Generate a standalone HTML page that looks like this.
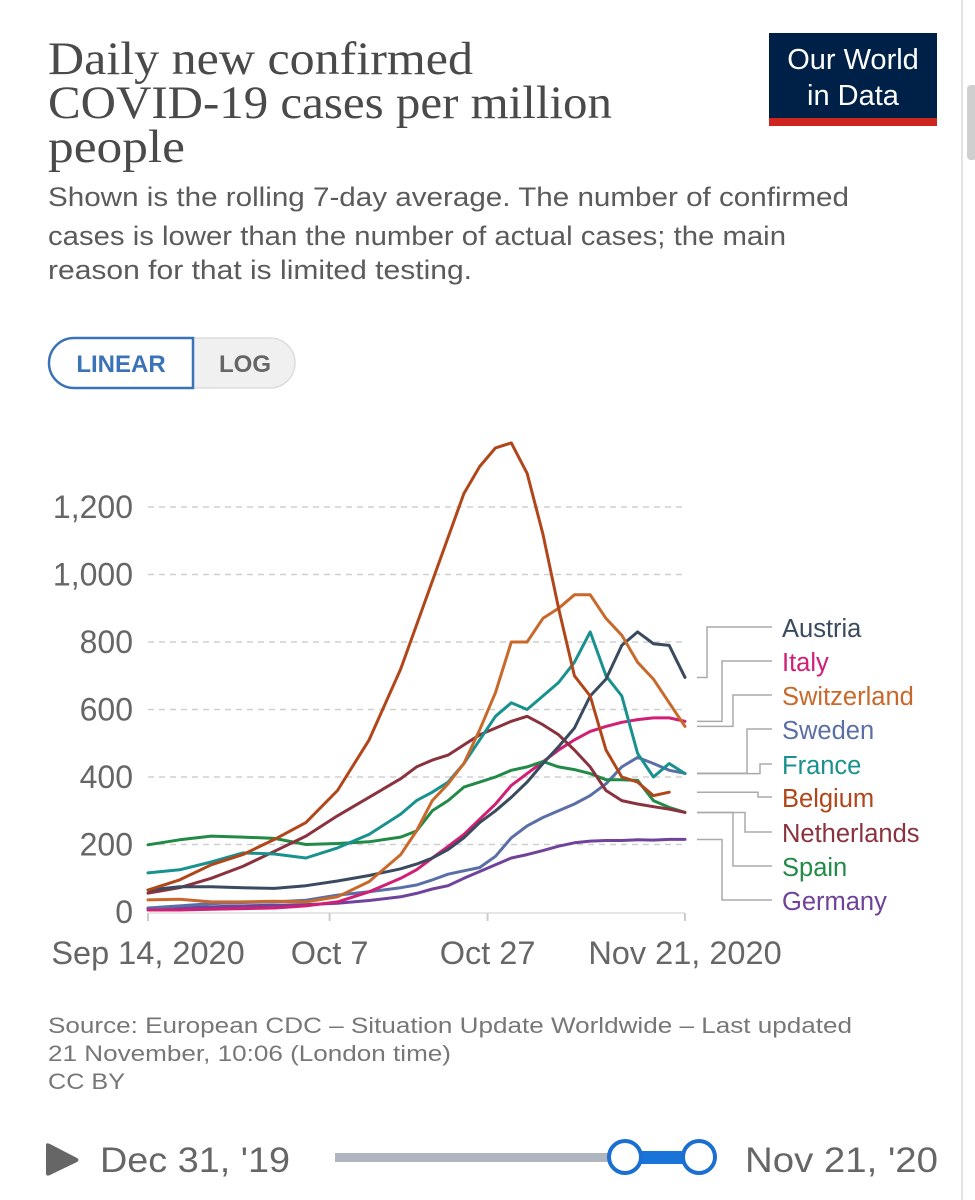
<!DOCTYPE html>
<html><head><meta charset="utf-8"><style>
html,body{margin:0;padding:0;background:#fff;width:975px;height:1200px;overflow:hidden}
svg{display:block}
</style></head><body>
<svg id="chart" width="975" height="1200" viewBox="0 0 975 1200" xmlns="http://www.w3.org/2000/svg">
<line x1="962" y1="0" x2="962" y2="1200" stroke="#e2e2e2" stroke-width="2"/>
<rect x="967" y="85" width="10" height="75" rx="4" fill="#cfcfcf"/>
<g font-family="'Liberation Serif', serif" font-size="47" fill="#4a4a4a">
<text x="48" y="74" textLength="425" lengthAdjust="spacingAndGlyphs">Daily new confirmed</text>
<text x="48" y="118" textLength="564" lengthAdjust="spacingAndGlyphs">COVID-19 cases per million</text>
<text x="48" y="162" textLength="137" lengthAdjust="spacingAndGlyphs">people</text>
</g>
<g font-family="'Liberation Sans', sans-serif" font-size="27" fill="#5b5b5b">
<text x="48" y="206" textLength="801" lengthAdjust="spacingAndGlyphs">Shown is the rolling 7-day average. The number of confirmed</text>
<text x="48" y="245" textLength="738" lengthAdjust="spacingAndGlyphs">cases is lower than the number of actual cases; the main</text>
<text x="48" y="279" textLength="424" lengthAdjust="spacingAndGlyphs">reason for that is limited testing.</text>
</g>
<g>
<rect x="769" y="33" width="168" height="86" fill="#002147"/>
<rect x="769" y="118" width="168" height="8" fill="#ce261e"/>
<text x="853" y="69" text-anchor="middle" font-family="'Liberation Sans', sans-serif" font-size="29" fill="#fff">Our World</text>
<text x="853" y="105" text-anchor="middle" font-family="'Liberation Sans', sans-serif" font-size="29" fill="#fff">in Data</text>
</g>
<g>
<rect x="49" y="338" width="246" height="50" rx="25" fill="#f0f0f0" stroke="#ddd" stroke-width="1.5"/>
<path d="M74 338 H193 V388 H74 A25 25 0 0 1 74 338 Z" fill="#fff" stroke="#3b73b9" stroke-width="2.5"/>
<text x="121" y="372" text-anchor="middle" font-family="'Liberation Sans', sans-serif" font-size="24" font-weight="bold" fill="#3b73b9">LINEAR</text>
<text x="245" y="372" text-anchor="middle" font-family="'Liberation Sans', sans-serif" font-size="24" font-weight="bold" fill="#666">LOG</text>
</g>
<g id="grid"></g>
<g id="series"></g>
<g id="legend"></g>
<g font-family="'Liberation Sans', sans-serif" font-size="22.5" fill="#777">
<text x="48" y="1033" textLength="804" lengthAdjust="spacingAndGlyphs">Source: European CDC – Situation Update Worldwide – Last updated</text>
<text x="48" y="1061" textLength="403" lengthAdjust="spacingAndGlyphs">21 November, 10:06 (London time)</text>
<text x="48" y="1089" textLength="77" lengthAdjust="spacingAndGlyphs">CC BY</text>
</g>
<g>
<path d="M46 1145 L46 1173 Q46 1177 50 1175 L77 1162 Q80 1160 77 1158 L50 1144 Q46 1142 46 1145 Z" fill="#666"/>
<text x="100" y="1172" font-family="'Liberation Sans', sans-serif" font-size="35" fill="#666" textLength="190" lengthAdjust="spacingAndGlyphs">Dec 31, '19</text>
<rect x="335" y="1153" width="290" height="9" fill="#b0b6bf"/>
<rect x="625" y="1151" width="73" height="13" fill="#1a73d9"/>
<circle cx="625" cy="1157" r="16" fill="#fff" stroke="#1a6fd0" stroke-width="4"/>
<circle cx="699" cy="1157" r="16" fill="#fff" stroke="#1a6fd0" stroke-width="4"/>
<text x="745" y="1172" font-family="'Liberation Sans', sans-serif" font-size="35" fill="#666" textLength="193" lengthAdjust="spacingAndGlyphs">Nov 21, '20</text>
</g>
</svg>
<script>
const days = [0,4,8,12,16,20,24,28,32,34,36,38,40,42,44,46,48,50,52,54,56,58,60,62,64,66,68];
const yTicks = [0,200,400,600,800,1000,1200];
const yTickLabels = ["0","200","400","600","800","1,000","1,200"];
const xTickDays = [0,23,43,68];
const xTickLabels = ["Sep 14, 2020","Oct 7","Oct 27","Nov 21, 2020"];
const countries = ["Austria","Italy","Switzerland","Sweden","France","Belgium","Netherlands","Spain","Germany"];
const austria     = [65,75,75,72,70,78,92,108,128,142,160,185,220,265,300,340,385,440,490,545,640,690,790,830,795,790,695];
const italy       = [6,6,8,10,12,18,30,60,100,125,160,194,230,275,320,375,410,445,480,510,535,550,562,570,575,575,565];
const switzerland = [36,38,30,30,32,30,45,90,170,240,330,380,440,540,650,800,800,870,900,940,940,870,820,740,690,620,550];
const sweden      = [12,18,25,28,30,35,50,60,72,80,95,112,122,132,165,220,255,280,300,320,345,380,430,458,440,420,411];
const france      = [116,125,148,175,172,160,190,230,290,330,355,385,440,510,580,620,600,640,680,740,830,700,640,470,400,440,410];
const belgium     = [65,95,140,170,215,265,360,510,720,850,980,1110,1240,1320,1375,1390,1300,1120,900,700,640,480,400,385,345,355];
const netherlands = [56,72,100,135,180,225,285,340,395,430,450,465,495,525,545,565,580,555,525,480,430,360,330,320,312,305,295];
const spain       = [199,214,225,222,218,200,203,208,222,240,300,330,370,385,400,420,430,446,430,422,410,392,392,390,330,310,295];
const germany     = [10,12,15,18,20,22,26,34,45,55,68,78,100,120,140,160,170,182,195,205,210,212,212,214,213,215,215];
const seriesValues = [austria,italy,switzerland,sweden,france,belgium,netherlands,spain,germany];
const colors = ["#3a4a5f","#d01f74","#c8692b","#5a6fa6","#19918f","#b1461a","#8a323d","#228a47","#6f439a"];

const X0=148, X1=685, Y0=912, Y1=507;
function xScale(d){ return X0 + (X1-X0)*d/68; }
function yScale(v){ return Y0 - (Y0-Y1)*v/1200; }
const NS="http://www.w3.org/2000/svg";
function mk(tag, attrs, parent){ const e=document.createElementNS(NS,tag); for(const k in attrs) e.setAttribute(k,attrs[k]); parent.appendChild(e); return e; }

const grid=document.getElementById('grid');
yTicks.forEach((t,i)=>{
  const y=yScale(t);
  if(t>0){
    const l=mk('line',{x1:X0,x2:X1,y1:y,y2:y,stroke:'#cfcfcf','stroke-width':1.5,'stroke-dasharray':'6,5'},grid);
    
    
  }
  const tx=mk('text',{x:133,y:y+11,'text-anchor':'end','font-family':"'Liberation Sans', sans-serif",'font-size':32,fill:'#666'},grid);
  tx.textContent=yTickLabels[i];
  
  
});
const axis=mk('line',{x1:X0,x2:X1,y1:Y0+1,y2:Y0+1,stroke:'#ddd','stroke-width':1.5},grid);


xTickDays.forEach((d,i)=>{
  const x=xScale(d);
  const tk=mk('line',{x1:x,x2:x,y1:Y0+1,y2:Y0+9,stroke:'#ccc','stroke-width':2},grid);
  
  
  const tx=mk('text',{x:x,y:964,'text-anchor':'middle','font-family':"'Liberation Sans', sans-serif",'font-size':32.5,fill:'#666'},grid);
  tx.textContent=xTickLabels[i];
  
  
});

const sg=document.getElementById('series');
const order=[8,3,1,7,6,4,0,2,5];
order.forEach(i=>{
  const vals=seriesValues[i];
  const pts=vals.map((v,j)=>xScale(days[j]).toFixed(1)+','+yScale(v).toFixed(1)).join(' ');
  const p=mk('polyline',{points:pts,fill:'none',stroke:colors[i],'stroke-width':3,'stroke-linejoin':'round','stroke-linecap':'round'},sg);
  
  
});

const lg=document.getElementById('legend');
const labelY=[628,662,696,730,765,798,833,867,901];
const elbowX=[707,722,733,747,760,758,745,733,722];
countries.forEach((c,i)=>{
  const vals=seriesValues[i];
  const yEnd=yScale(vals[vals.length-1]);
  const x0=697, ly=labelY[i]-1;
  const path=mk('polyline',{points:`${x0},${yEnd} ${elbowX[i]},${yEnd} ${elbowX[i]},${ly} 772,${ly}`,fill:'none',stroke:'#aaa','stroke-width':1.5},lg);
  
  
  const t=mk('text',{x:782,y:labelY[i]+9,'font-family':"'Liberation Sans', sans-serif",'font-size':25.5,fill:colors[i]},lg);
  t.textContent=c;
  
  
});
</script>
</body></html>
